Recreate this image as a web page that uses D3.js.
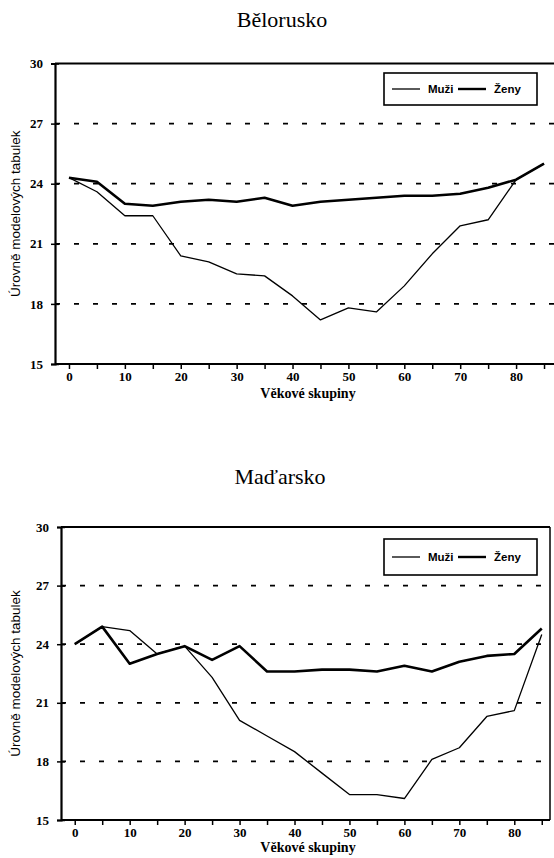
<!DOCTYPE html>
<html>
<head>
<meta charset="utf-8">
<script src="https://cdn.jsdelivr.net/npm/d3@7"></script>
<style>
  body { margin: 0; background: #fff; }
  svg { display: block; }
</style>
</head>
<body>
<div id="chart"></div>
<script>
// age groups on the x axis
const ageGroups = [0, 5, 10, 15, 20, 25, 30, 35, 40, 45, 50, 55, 60, 65, 70, 75, 80, 85];
const xLabels = [0, 10, 20, 30, 40, 50, 60, 70, 80];
const yTicks = [15, 18, 21, 24, 27, 30];
const gridValues = [18, 21, 24, 27];

// Belarus
const belarusMen   = [24.3, 23.6, 22.4, 22.4, 20.4, 20.1, 19.5, 19.4, 18.4, 17.2, 17.8, 17.6, 18.9, 20.5, 21.9, 22.2, 24.2, 25.0];
const belarusWomen = [24.3, 24.1, 23.0, 22.9, 23.1, 23.2, 23.1, 23.3, 22.9, 23.1, 23.2, 23.3, 23.4, 23.4, 23.5, 23.8, 24.2, 25.0];

// Hungary
const hungaryMen   = [24.0, 24.9, 24.7, 23.5, 23.9, 22.3, 20.1, 19.3, 18.5, 17.4, 16.3, 16.3, 16.1, 18.1, 18.7, 20.3, 20.6, 24.5];
const hungaryWomen = [24.0, 24.9, 23.0, 23.5, 23.9, 23.2, 23.9, 22.6, 22.6, 22.7, 22.7, 22.6, 22.9, 22.6, 23.1, 23.4, 23.5, 24.8];

const seriesNames = ["Muži", "Ženy"];

const W = 554, H = 858;
const svg = d3.select("#chart").append("svg").attr("width", W).attr("height", H);

function drawChart(cfg) {
  const g = svg.append("g");

  const x = d3.scaleLinear().domain([-2.5, cfg.xMax]).range([cfg.left, cfg.right]);
  const y = d3.scaleLinear().domain([15, 30]).range([cfg.bottom, cfg.top]);

  // title
  g.append("text")
    .attr("x", cfg.titleX).attr("y", cfg.titleY)
    .attr("text-anchor", "middle")
    .style("font-family", "Liberation Serif, serif")
    .style("font-size", "22px")
    .text(cfg.title);

  // dashed grid
  g.selectAll(".grid")
    .data(gridValues)
    .join("line")
    .attr("x1", cfg.left).attr("x2", cfg.right)
    .attr("y1", d => y(d)).attr("y2", d => y(d))
    .attr("stroke", "#000")
    .attr("stroke-width", 1.8)
    .attr("stroke-dasharray", "5,14");

  const line = d3.line()
    .x((d, i) => x(ageGroups[i]))
    .y(d => y(d));

  g.append("path").datum(cfg.men)
    .attr("d", line).attr("fill", "none")
    .attr("stroke", "#000").attr("stroke-width", 1.3)
    .attr("stroke-linejoin", "round");

  g.append("path").datum(cfg.women)
    .attr("d", line).attr("fill", "none")
    .attr("stroke", "#000").attr("stroke-width", 2.6)
    .attr("stroke-linejoin", "round");

  // frame
  g.append("line").attr("x1", cfg.left).attr("x2", cfg.right)
    .attr("y1", cfg.top).attr("y2", cfg.top)
    .attr("stroke", "#000").attr("stroke-width", 2);
  g.append("line").attr("x1", cfg.right).attr("x2", cfg.right)
    .attr("y1", cfg.top).attr("y2", cfg.bottom)
    .attr("stroke", "#000").attr("stroke-width", 1.5);

  // y axis
  const yAxis = g.append("g")
    .attr("transform", `translate(${cfg.left},0)`)
    .call(d3.axisLeft(y).tickValues(yTicks).tickSize(4).tickPadding(8));
  yAxis.select(".domain").attr("stroke-width", 2.2);
  yAxis.selectAll(".tick line").attr("x2", 4).attr("x1", -4).attr("stroke-width", 1.5);
  yAxis.selectAll("text")
    .style("font-family", "Liberation Serif, serif")
    .style("font-weight", "bold")
    .style("font-size", "13px");

  // x axis
  const xAxis = g.append("g")
    .attr("transform", `translate(0,${cfg.bottom})`)
    .call(d3.axisBottom(x).tickValues(ageGroups).tickSize(5).tickPadding(3)
      .tickFormat(d => xLabels.includes(d) ? d : ""));
  xAxis.select(".domain").attr("d", `M${cfg.left},0H${cfg.right}`).attr("stroke-width", 2.2);
  xAxis.selectAll(".tick line").attr("stroke-width", 1.5);
  xAxis.selectAll("text")
    .style("font-family", "Liberation Serif, serif")
    .style("font-weight", "bold")
    .style("font-size", "13px");

  // axis titles
  g.append("text")
    .attr("x", cfg.xTitleX).attr("y", cfg.xTitleY)
    .attr("text-anchor", "middle")
    .style("font-family", "Liberation Serif, serif")
    .style("font-weight", "bold")
    .style("font-size", "14px")
    .text("Věkové skupiny");

  g.append("text")
    .attr("transform", `translate(20,${(cfg.top + cfg.bottom) / 2}) rotate(-90)`)
    .attr("text-anchor", "middle")
    .style("font-family", "Liberation Sans, sans-serif")
    .style("font-size", "13.5px")
    .text("Úrovně modelových tabulek");

  // legend
  const lg = g.append("g").attr("transform", `translate(${cfg.legendX},${cfg.legendY})`);
  lg.append("rect")
    .attr("width", 153).attr("height", cfg.legendH)
    .attr("fill", "#fff").attr("stroke", "#000").attr("stroke-width", 1.6);
  const items = lg.selectAll(".item")
    .data(seriesNames)
    .join("g")
    .attr("transform", (d, i) => `translate(${8 + i * 66},${cfg.legendH / 2})`);
  items.append("line")
    .attr("x1", 0).attr("x2", 28)
    .attr("stroke", "#000")
    .attr("stroke-width", (d, i) => i === 0 ? 1.3 : 2.4);
  items.append("text")
    .attr("x", 36).attr("y", 4)
    .style("font-family", "Liberation Sans, sans-serif")
    .style("font-weight", "bold")
    .style("font-size", "11.5px")
    .text(d => d);
}

drawChart({
  title: "Bělorusko", titleX: 282, titleY: 27,
  left: 55, right: 558, top: 63.5, bottom: 364, xMax: 87.5,
  men: belarusMen, women: belarusWomen,
  xTitleX: 308, xTitleY: 398,
  legendX: 384, legendY: 73, legendH: 32
});

drawChart({
  title: "Maďarsko", titleX: 280, titleY: 484,
  left: 61, right: 550, top: 527, bottom: 820, xMax: 86.5,
  men: hungaryMen, women: hungaryWomen,
  xTitleX: 308, xTitleY: 852,
  legendX: 384, legendY: 539, legendH: 36
});
</script>
</body>
</html>
